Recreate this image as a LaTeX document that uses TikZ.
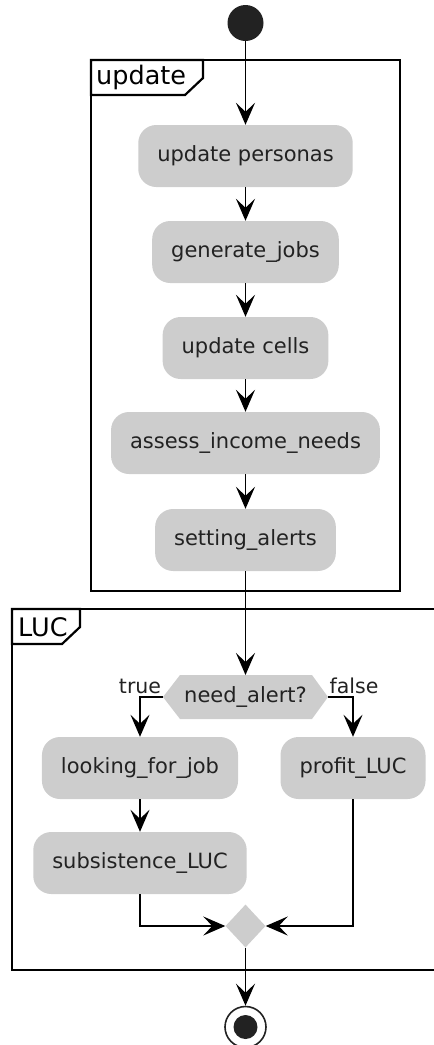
\documentclass[tikz,border=0pt]{standalone}
\usepackage{fontspec}
\setmainfont{DejaVu Sans}
\usepackage{tikz}
\usetikzlibrary{arrows.meta,positioning,shapes.geometric,calc}
\usepackage{xcolor}
\definecolor{actfill}{HTML}{CDCDCD}
\definecolor{ink}{HTML}{222222}

\tikzset{
  activity/.style={rectangle, rounded corners=18pt, fill=actfill, text=ink,
    font=\fontsize{21}{24}\selectfont, inner xsep=19pt, minimum height=62pt},
  flow/.style={line width=1.6pt, -{Stealth[length=22pt,width=19pt,inset=9pt]}},
  framebox/.style={line width=2.2pt},
  frametitle/.style={font=\fontsize{25.5}{28}\selectfont, anchor=west, inner sep=0pt},
  branchlabel/.style={font=\fontsize{20.5}{24}\selectfont, text=ink, inner sep=0pt}
}

\begin{document}
\begin{tikzpicture}[x=1pt, y=-1pt]
  \useasboundingbox (0,0) rectangle (434,1045);
  % update frame
  \draw[framebox] (91,60) rectangle (400,591);
  \draw[framebox, fill=white] (91,60) -- (203,60) -- (203,78) -- (185,95) -- (91,95) -- cycle;
  \node[frametitle] (updtitle) at (96,77) {update};
  % LUC frame
  \draw[framebox] (12,609) rectangle (450,970);
  \draw[framebox, fill=white] (12,609) -- (80,609) -- (80,627) -- (62,644) -- (12,644) -- cycle;
  \node[frametitle] (luctitle) at (18,627) {LUC};

  % start
  \node[circle, fill=ink, minimum size=36pt, inner sep=0pt] (start) at (245.5,23) {};
  % update activities
  \node[activity] (personas) at (245.5,156) {update personas};
  \node[activity] (jobs) at (245.5,252) {generate\_jobs};
  \node[activity] (cells) at (245.5,348) {update cells};
  \node[activity] (income) at (245.5,443) {assess\_income\_needs};
  \node[activity] (alerts) at (245.5,540) {setting\_alerts};

  % decision
  \coordinate (alertW) at (163,697);
  \coordinate (alertE) at (328,697);
  \fill[actfill] (alertW) -- (180,675) -- (312,675) -- (alertE) -- (312,719) -- (180,719) -- cycle;
  \node[font=\fontsize{21}{24}\selectfont, text=ink, inner sep=0pt] (alert) at (245.5,697) {need\_alert?};
  \coordinate (alertN) at (245.5,675);
  \node[branchlabel] (truelbl) at (140,686) {true};
  \node[branchlabel] (falselbl) at (354,686) {false};

  % LUC activities
  \node[activity] (look) at (140,768) {looking\_for\_job};
  \node[activity] (profit) at (353,768) {profit\_LUC};
  \node[activity] (subs) at (140,863) {subsistence\_LUC};
  \node[diamond, fill=actfill, minimum width=40pt, minimum height=43pt, inner sep=0pt] (merge) at (245.5,926) {};

  % end
  \node[circle, draw=ink, line width=1.6pt, fill=white, minimum size=41pt, inner sep=0pt] (stop) at (245.5,1027) {};
  \fill[ink] (stop) circle (12pt);

  % connectors
  \draw[flow] (start) -- (personas);
  \draw[flow] (personas) -- (jobs);
  \draw[flow] (jobs) -- (cells);
  \draw[flow] (cells) -- (income);
  \draw[flow] (income) -- (alerts);
  \draw[flow] (alerts) -- (alertN);
  \draw[flow] (alertW) -| (look.north);
  \draw[flow] (alertE) -| (profit.north);
  \draw[flow] (look) -- (subs);
  \draw[flow] (subs.south) |- (merge.west);
  \draw[flow] (profit.south) |- (merge.east);
  \draw[flow] (merge) -- (stop);
\end{tikzpicture}
\end{document}
